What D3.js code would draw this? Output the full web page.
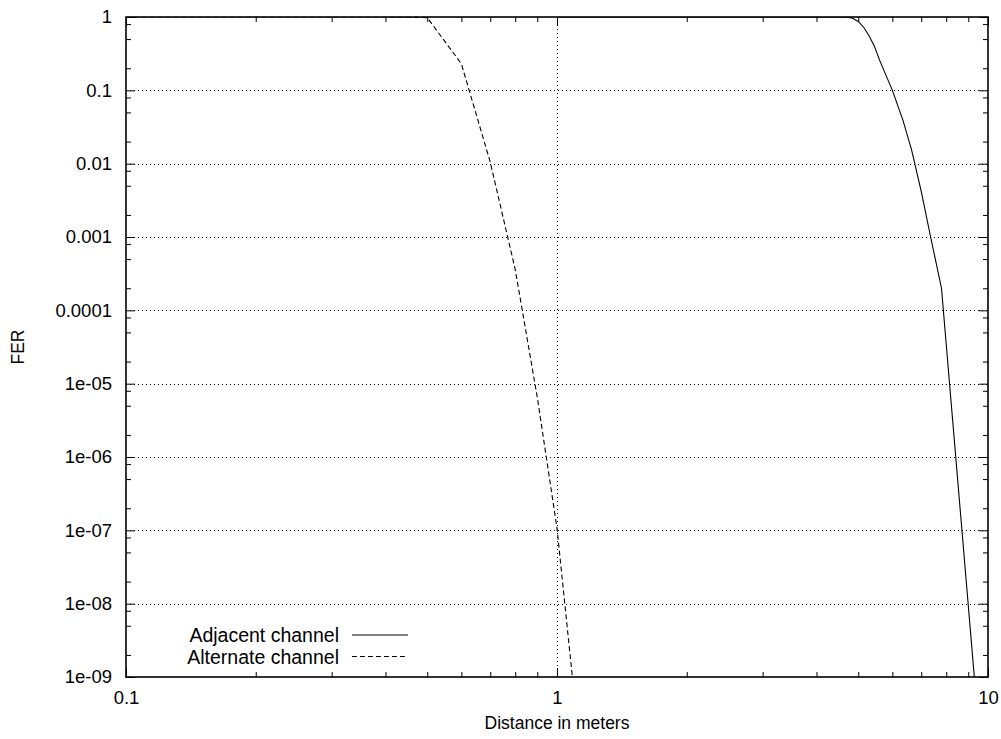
<!DOCTYPE html>
<meta charset="utf-8">
<script src="https://d3js.org/d3.v7.min.js"></script>
<style>
body { margin: 0; background: #fff; }
svg { font-family: "Liberation Sans", Arial, Helvetica, sans-serif; }
.axis path { display: none; }
.axis line { stroke: #000; stroke-width: 1px; }
.axis text { font-size: 18.5px; fill: #000; }
.grid line { stroke: #000; stroke-width: 1px; stroke-dasharray: 1 3; }
.curve { fill: none; stroke: #000; stroke-width: 1.1px; }
.legend text { font-size: 19.5px; fill: #000; }
</style>
<body>
<script>

// distances (m) and frame error rates
var adjX = [1, 2, 3, 4, 4.5, 4.7, 4.85, 5.0, 5.15, 5.3, 5.45, 5.6, 5.8, 6.0, 6.35, 6.65, 7.0, 7.36, 7.8, 9.5];
var adjY = [1, 1, 1, 1, 1, 0.995, 0.96, 0.87, 0.72, 0.55, 0.4, 0.26, 0.16, 0.1, 0.039, 0.0153, 0.0042, 0.001, 2e-4, 2.2e-10];

var altX = [0.1, 0.2, 0.3, 0.4, 0.5, 0.6, 0.7, 0.8, 0.9, 1.0, 1.1];
var altY = [1, 1, 1, 1, 0.98, 0.23, 0.0105, 3.6e-4, 6.5e-6, 1.07e-7, 4.7e-10];

var xMajor = [0.1, 1, 10];
var xMinor = [0.2, 0.3, 0.4, 0.5, 0.6, 0.7, 0.8, 0.9, 2, 3, 4, 5, 6, 7, 8, 9];
var yMajor = [1, 0.1, 0.01, 0.001, 1e-4, 1e-5, 1e-6, 1e-7, 1e-8, 1e-9];
var yLabels = ["1", "0.1", "0.01", "0.001", "0.0001", "1e-05", "1e-06", "1e-07", "1e-08", "1e-09"];
var yMinor = [];
yMajor.slice(1).forEach(function(d) { [2, 5, 8].forEach(function(m) { yMinor.push(d * m); }); });

var legendNames = ["Adjacent channel", "Alternate channel"];

var margin = {top: 17, right: 13, bottom: 62, left: 126};
var width = 1001 - margin.left - margin.right,
    height = 739 - margin.top - margin.bottom;

var svg = d3.select("body").append("svg")
    .attr("width", 1001)
    .attr("height", 739)
  .append("g")
    .attr("transform", "translate(" + margin.left + "," + margin.top + ")");

var x = d3.scaleLog().domain([0.1, 10]).range([0, width]);
var y = d3.scaleLog().domain([1e-9, 1]).range([height, 0]);

// grid
var grid = svg.append("g").attr("class", "grid");
grid.selectAll(".gy").data(yMajor.slice(1, -1)).enter().append("line")
    .attr("x1", 0).attr("x2", width)
    .attr("y1", function(d) { return Math.round(y(d)) + 0.5; })
    .attr("y2", function(d) { return Math.round(y(d)) + 0.5; });
grid.selectAll(".gx").data([1]).enter().append("line")
    .attr("y1", 0).attr("y2", height)
    .attr("x1", function(d) { return Math.round(x(d)) + 0.5; })
    .attr("x2", function(d) { return Math.round(x(d)) + 0.5; });

// axes: major with labels on left/bottom, mirrored ticks on top/right
svg.append("g").attr("class", "axis")
    .attr("transform", "translate(0," + height + ")")
    .call(d3.axisBottom(x).tickValues(xMajor).tickSize(-9).tickPadding(14).tickFormat(d3.format("")));
svg.append("g").attr("class", "axis")
    .attr("transform", "translate(0," + height + ")")
    .call(d3.axisBottom(x).tickValues(xMinor).tickSize(-5).tickFormat(""));
svg.append("g").attr("class", "axis")
    .call(d3.axisTop(x).tickValues(xMajor).tickSize(-9).tickFormat(""));
svg.append("g").attr("class", "axis")
    .call(d3.axisTop(x).tickValues(xMinor).tickSize(-5).tickFormat(""));

svg.append("g").attr("class", "axis")
    .call(d3.axisLeft(y).tickValues(yMajor).tickSize(-9).tickPadding(14)
      .tickFormat(function(d, i) { return yLabels[i]; }));
svg.append("g").attr("class", "axis")
    .call(d3.axisLeft(y).tickValues(yMinor).tickSize(-5).tickFormat(""));
svg.append("g").attr("class", "axis")
    .attr("transform", "translate(" + width + ",0)")
    .call(d3.axisRight(y).tickValues(yMajor).tickSize(-9).tickFormat(""));
svg.append("g").attr("class", "axis")
    .attr("transform", "translate(" + width + ",0)")
    .call(d3.axisRight(y).tickValues(yMinor).tickSize(-5).tickFormat(""));

svg.selectAll(".axis").attr("font-size", null).attr("font-family", null);

// curves
svg.append("clipPath").attr("id", "clip")
  .append("rect").attr("width", width).attr("height", height);

var line = d3.line()
    .x(function(d) { return x(d[0]); })
    .y(function(d) { return y(d[1]); });

svg.append("path").attr("class", "curve")
    .attr("clip-path", "url(#clip)")
    .attr("d", line(d3.zip(adjX, adjY)));
svg.append("path").attr("class", "curve")
    .attr("clip-path", "url(#clip)")
    .attr("stroke-dasharray", "5 3")
    .attr("d", line(d3.zip(altX, altY)));

// frame
svg.append("rect")
    .attr("width", width).attr("height", height)
    .attr("fill", "none").attr("stroke", "#000").attr("stroke-width", 1.6);

// legend
var legend = svg.append("g").attr("class", "legend")
    .attr("transform", "translate(0," + 618 + ")");
var li = legend.selectAll("g").data(legendNames).enter().append("g")
    .attr("transform", function(d, i) { return "translate(0," + (i * 21.5) + ")"; });
li.append("text")
    .attr("x", 213).attr("y", 7)
    .attr("text-anchor", "end")
    .text(function(d) { return d; });
li.append("line")
    .attr("x1", 226).attr("x2", 282)
    .attr("stroke", "#000").attr("stroke-width", 1)
    .attr("stroke-dasharray", function(d, i) { return i ? "5 3" : null; });

// axis titles
svg.append("text")
    .attr("x", width / 2).attr("y", height + 52)
    .attr("text-anchor", "middle")
    .attr("font-size", 17.5)
    .text("Distance in meters");
svg.append("text")
    .attr("transform", "translate(" + (-102) + "," + (height / 2) + ") rotate(-90)")
    .attr("text-anchor", "middle")
    .attr("font-size", 17.5)
    .text("FER");

</script>
</body>
